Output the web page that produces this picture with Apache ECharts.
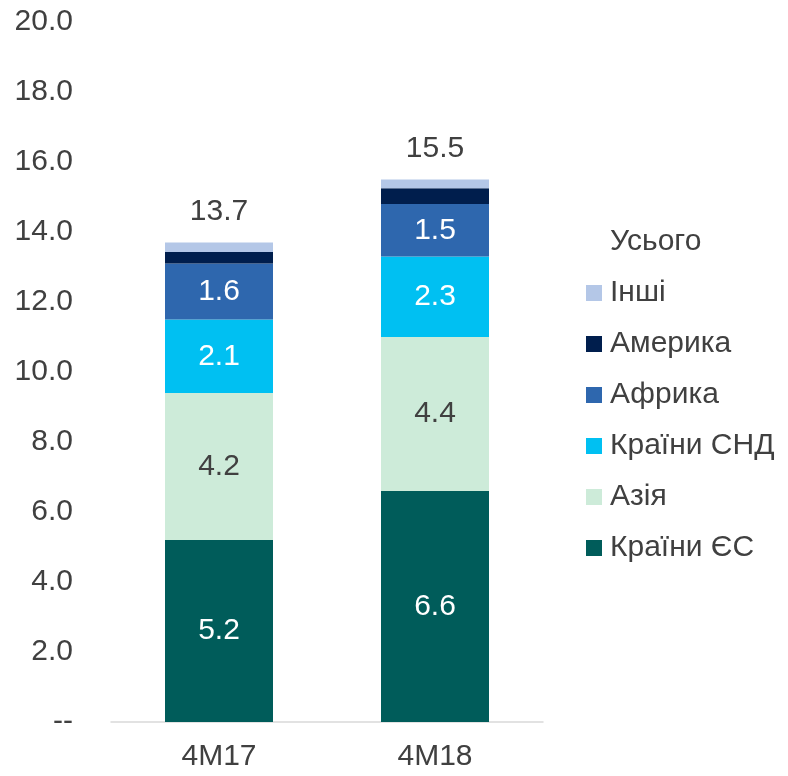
<!DOCTYPE html>
<html>
<head>
<meta charset="utf-8">
<script src="https://cdn.jsdelivr.net/npm/echarts@6/dist/echarts.min.js"></script>
<style>
  html, body { margin: 0; padding: 0; background: #fff; }
  #chart { width: 788px; height: 776px; }
</style>
</head>
<body>
<div id="chart"></div>
<script>
// періоди
var periods = ['4M17', '4M18'];
// експорт за регіонами
var euValues = [5.2, 6.6];
var asiaValues = [4.2, 4.4];
var cisValues = [2.1, 2.3];
var africaValues = [1.6, 1.5];
var americaValues = [0.33, 0.45];
var otherValues = [0.27, 0.25];
var totalValues = [13.7, 15.5];
var yTicks = [0, 20, 2];

var fontName = '"Liberation Sans", Arial, sans-serif';
var textColor = '#404040';
var fs = 30;

function barSeries(name, values, color, labelColor, showLabel) {
    return {
        name: name,
        type: 'bar',
        stack: 'all',
        barWidth: '50%',
        itemStyle: { color: color },
        label: {
            show: showLabel,
            position: 'inside',
            color: labelColor,
            fontSize: fs,
            fontFamily: fontName,
            formatter: function (p) { return p.value.toFixed(1); }
        },
        data: values
    };
}

var chart = echarts.init(document.getElementById('chart'));
var option = {
    animation: false,
    textStyle: { fontFamily: fontName },
    grid: { left: 111, right: 245, top: 22, bottom: 54 },
    legend: {
        orient: 'vertical',
        left: 581,
        top: 222,
        itemWidth: 16,
        itemHeight: 16,
        itemGap: 21,
        icon: 'rect',
        textStyle: { fontSize: fs, color: textColor, fontFamily: fontName, padding: [0, 0, 0, 3] },
        data: ['Усього', 'Інші', 'Америка', 'Африка', 'Країни СНД', 'Азія', 'Країни ЄС']
    },
    xAxis: {
        type: 'category',
        data: periods,
        axisLine: { lineStyle: { color: '#d9d9d9', width: 1.5 } },
        axisTick: { show: false },
        axisLabel: { fontSize: fs, color: textColor, margin: 20 }
    },
    yAxis: {
        type: 'value',
        min: yTicks[0],
        max: yTicks[1],
        interval: yTicks[2],
        axisLine: { show: false },
        axisTick: { show: false },
        splitLine: { show: false },
        axisLabel: {
            fontSize: fs,
            color: textColor,
            margin: 38,
            formatter: function (v) { return v === 0 ? '--' : v.toFixed(1); }
        }
    },
    series: [
        barSeries('Країни ЄС', euValues, '#005c5a', '#ffffff', true),
        barSeries('Азія', asiaValues, '#cdebd9', '#404040', true),
        barSeries('Країни СНД', cisValues, '#00c0f2', '#ffffff', true),
        barSeries('Африка', africaValues, '#2e67ae', '#ffffff', true),
        barSeries('Америка', americaValues, '#001e4d', '#ffffff', false),
        barSeries('Інші', otherValues, '#b4c7e7', '#ffffff', false),
        {
            name: 'Усього',
            type: 'line',
            data: totalValues,
            symbol: 'circle',
            symbolSize: 1,
            itemStyle: { color: 'rgba(255,255,255,0)' },
            lineStyle: { opacity: 0 },
            label: {
                show: true,
                position: 'top',
                distance: 15,
                color: textColor,
                fontSize: fs,
                fontFamily: fontName,
                formatter: function (p) { return p.value.toFixed(1); }
            },
            z: 5
        }
    ]
};
chart.setOption(option);
</script>
</body>
</html>
